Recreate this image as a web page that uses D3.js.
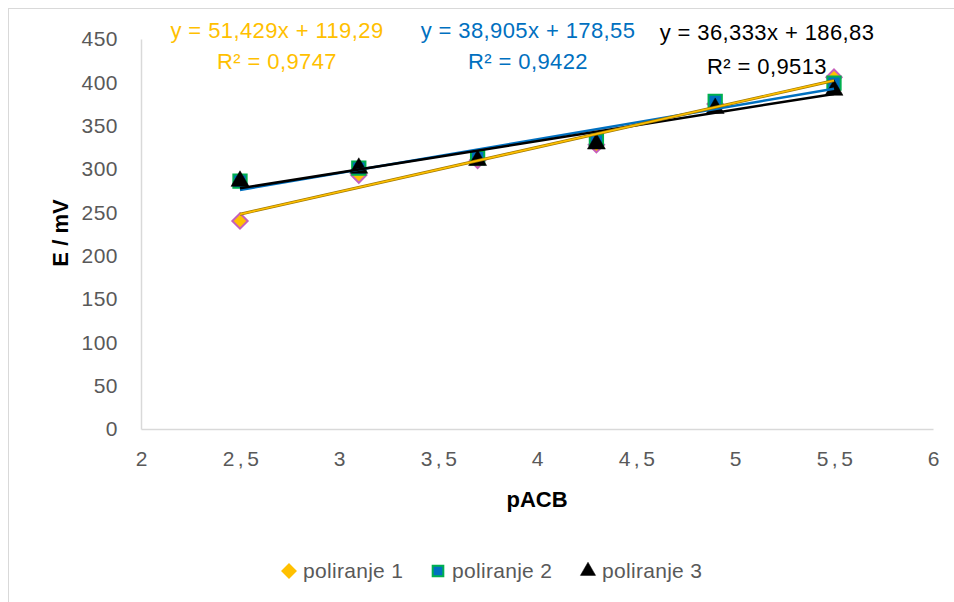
<!DOCTYPE html>
<html>
<head>
<meta charset="utf-8">
<script src="https://cdn.jsdelivr.net/npm/d3@7"></script>
<style>
  html, body { margin: 0; padding: 0; background: #fff; }
  svg { display: block; font-family: 'Liberation Sans', Arial, sans-serif; }
</style>
</head>
<body>
<svg class="canvas" width="954" height="602"></svg>
<script>
'use strict'

// Data
const xValues = [2.5, 3.1, 3.7, 4.3, 4.9, 5.5]
const series1 = [240, 293, 310, 328, 375, 406]
const series2 = [286, 301, 313, 332, 378, 399]
const series3 = [286, 301, 310, 329, 370, 391]
const seriesNames = ['poliranje 1', 'poliranje 2', 'poliranje 3']
const slopes = [51.429, 38.905, 36.333]
const intercepts = [119.29, 178.55, 186.83]
const rSquared = ['0,9747', '0,9422', '0,9513']
const xTicks = [2, 2.5, 3, 3.5, 4, 4.5, 5, 5.5, 6]
const yTicks = [0, 50, 100, 150, 200, 250, 300, 350, 400, 450]

const svg = d3.select('.canvas')
const plotLeft = 141, plotRight = 933, plotTop = 39, plotBottom = 429

const x = d3.scaleLinear().domain([2, 6]).range([plotLeft, plotRight])
const y = d3.scaleLinear().domain([0, 450]).range([plotBottom, plotTop])
const comma = v => String(v).replace('.', ',')

// Outer chart frame
svg.append('rect')
  .attr('x', 8.5).attr('y', 8.5)
  .attr('width', 960).attr('height', 620)
  .attr('fill', 'none').attr('stroke', '#d9d9d9')

// Axes (no tick marks, light lines)
svg.append('g')
  .attr('transform', `translate(0, ${plotBottom})`)
  .call(d3.axisBottom(x).tickValues(xTicks).tickSize(0).tickPadding(22).tickFormat(comma))
  .call(g => g.select('.domain').attr('stroke', '#d9d9d9').attr('stroke-width', 1.5))
  .call(g => g.selectAll('text')
    .attr('font-size', 21).attr('fill', '#595959').attr('font-family', null)
    .attr('letter-spacing', d => (d % 1 ? 3.5 : 0))
    .attr('dx', d => (d % 1 ? 2 : 0)))

svg.append('g')
  .attr('transform', `translate(${plotLeft}, 0)`)
  .call(d3.axisLeft(y).tickValues(yTicks).tickSize(0).tickPadding(23))
  .call(g => g.select('.domain').attr('stroke', '#d9d9d9').attr('stroke-width', 1.5))
  .call(g => g.selectAll('text')
    .attr('font-size', 21).attr('fill', '#595959').attr('font-family', null)
    .attr('letter-spacing', 0.5))

// Axis titles
svg.append('text')
  .attr('x', 537).attr('y', 507)
  .attr('text-anchor', 'middle')
  .attr('font-size', 22).attr('font-weight', 'bold')
  .text('pACB')
svg.append('text')
  .attr('transform', 'translate(68, 233) rotate(-90)')
  .attr('text-anchor', 'middle')
  .attr('font-size', 22).attr('font-weight', 'bold')
  .text('E / mV')

// Markers
const diamond = d3.symbol().type(d3.symbolDiamond2)
const square = d3.symbol().type(d3.symbolSquare2)
const triangle = d3.symbol().type(d3.symbolTriangle)

const markerStyles = [
  { sym: diamond, area: 150, legendArea: 110, fill: '#ffc000', stroke: '#c65fbb' },
  { sym: square, area: 225, legendArea: 144, fill: '#0070c0', stroke: '#00b050' },
  { sym: triangle, area: 140, legendArea: 100, fill: '#000', stroke: '#000' },
]
const allSeries = [series1, series2, series3]

allSeries.forEach((vals, i) => {
  const st = markerStyles[i]
  svg.append('g').selectAll('path')
    .data(vals.map((v, j) => [xValues[j], v]))
    .join('path')
    .attr('transform', d => `translate(${x(d[0])}, ${y(d[1])})`)
    .attr('d', st.sym.size(st.area)())
    .attr('fill', st.fill)
    .attr('stroke', st.stroke)
    .attr('stroke-width', i === 2 ? 0.5 : 2)
})

// Linear trendlines from the printed equations
const x0 = d3.min(xValues), x1 = d3.max(xValues)
const trend = i => [[x0, slopes[i] * x0 + intercepts[i]], [x1, slopes[i] * x1 + intercepts[i]]]
const line = d3.line().x(d => x(d[0])).y(d => y(d[1]))

svg.append('path').attr('d', line(trend(1)))
  .attr('stroke', '#0070c0').attr('stroke-width', 2.5).attr('fill', 'none')
svg.append('path').attr('d', line(trend(2)))
  .attr('stroke', '#000').attr('stroke-width', 2.5).attr('fill', 'none')
svg.append('path').attr('d', line(trend(0)))
  .attr('stroke', '#a07800').attr('stroke-width', 3).attr('fill', 'none')
svg.append('path').attr('d', line(trend(0)))
  .attr('stroke', '#ffc000').attr('stroke-width', 1.6).attr('fill', 'none')

// Equation labels
const labelColors = ['#ffc000', '#0070c0', '#000']
const labelPos = [[277, 38, 69], [528, 38, 69], [767, 40, 74]]
labelColors.forEach((c, i) => {
  const [cx, y1, y2] = labelPos[i]
  const t = svg.append('text')
    .attr('text-anchor', 'middle')
    .attr('font-size', 22).attr('fill', c).attr('letter-spacing', 0.4)
  t.append('tspan').attr('x', cx).attr('y', y1)
    .text(`y = ${comma(slopes[i])}x + ${comma(intercepts[i])}`)
  t.append('tspan').attr('x', cx).attr('y', y2)
    .text(`R² = ${rSquared[i]}`)
})

// Legend
const legendX = [289, 438, 588]
seriesNames.forEach((name, i) => {
  const st = markerStyles[i]
  svg.append('path')
    .attr('transform', `translate(${legendX[i]}, 571)`)
    .attr('d', st.sym.size(st.legendArea)())
    .attr('fill', st.fill)
    .attr('stroke', i === 0 ? st.fill : st.stroke)
    .attr('stroke-width', i === 2 ? 0.5 : 2)
  svg.append('text')
    .attr('x', legendX[i] + 14).attr('y', 578)
    .attr('font-size', 21).attr('fill', '#595959').attr('letter-spacing', 0.3)
    .text(name)
})
</script>
</body>
</html>
